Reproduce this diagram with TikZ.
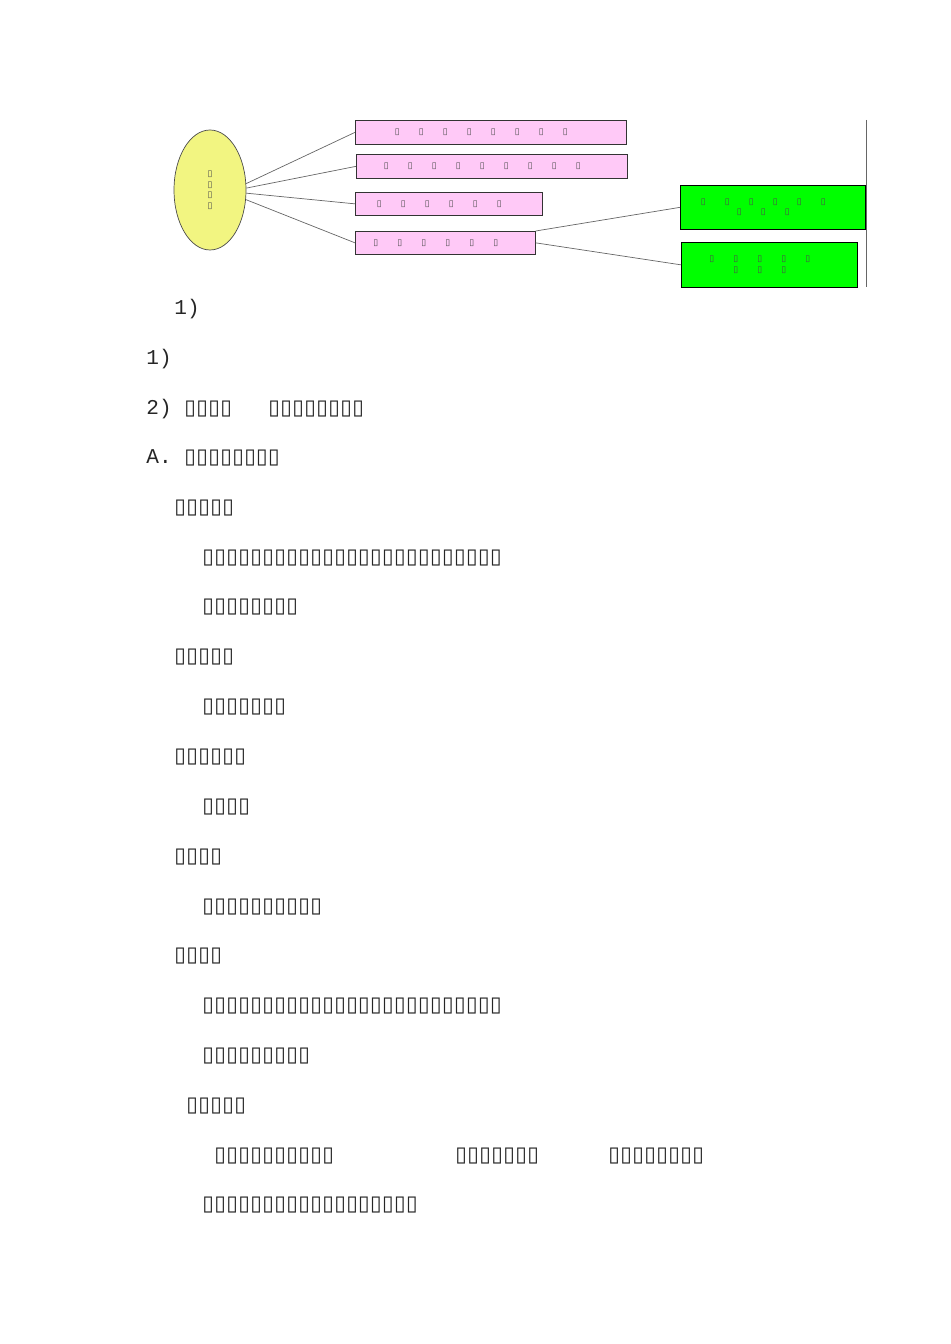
\documentclass[tikz,border=0pt]{standalone}
\usepackage{fontspec}
\setmainfont{Liberation Mono}
\newfontfamily\tofu{DejaVu Sans}
\usetikzlibrary{shapes.geometric}
\newcommand{\tf}[2]{{\tofu\foreach \i in {1,...,#1}{\makebox[#2][l]{▯}}}}
\tikzset{
	pinkbox/.style={draw=black!80, fill=pink!40!magenta!30, inner sep=0pt, anchor=north west, font=\tiny, text=black!70},
	greenbox/.style={draw=black, fill=green, inner sep=0pt, anchor=north west, font=\tiny, align=center, text=black!70},
	line/.style={draw=black!60},
	txt/.style={anchor=west, inner sep=0pt, font=\fontsize{12}{14}\selectfont, text=black!85}
}
\begin{document}
\begin{tikzpicture}[x=0.02cm,y=-0.02cm]
	\useasboundingbox (0,0) rectangle (950,1344);
	\node [ellipse, draw=black!70, fill=yellow!60!lime!50, minimum width=72*0.02cm, minimum height=120*0.02cm, inner sep=0pt, font=\tiny, align=center, text=black!70] (root) at (210,190) {{\tofu ▯}\\{\tofu ▯}\\{\tofu ▯}\\{\tofu ▯}};
	\node [pinkbox, minimum width=271*0.02cm, minimum height=24*0.02cm] (p1) at (355,120) {\tf{8}{0.48cm}};
	\node [pinkbox, minimum width=271*0.02cm, minimum height=24*0.02cm] (p2) at (356,154) {\tf{9}{0.48cm}};
	\node [pinkbox, minimum width=187*0.02cm, minimum height=23*0.02cm] (p3) at (355,192) {\tf{6}{0.48cm}\hspace{1cm}};
	\node [pinkbox, minimum width=180*0.02cm, minimum height=23*0.02cm] (p4) at (355,231) {\tf{6}{0.48cm}\hspace{1cm}};
	\node [greenbox, minimum width=185*0.02cm, minimum height=44*0.02cm] (g1) at (680,185) {\tf{6}{0.48cm}\\\tf{3}{0.48cm}};
	\node [greenbox, minimum width=176*0.02cm, minimum height=45*0.02cm] (g2) at (681,242) {\tf{5}{0.48cm}\\\tf{3}{0.48cm}};
	\coordinate (v1) at (866,120);
	\coordinate (v2) at (866,287);
	\path [line] (v1) edge (v2);

	\path [line] (root.10) edge (p1.west);
	\path [line] (root.3) edge (p2.west);
	\path [line] (root.-5) edge (p3.west);
	\path [line] (root.-15) edge (p4.west);

	\path [line] (p4.north east) edge (g1.west);
	\path [line] (p4.east) edge (g2.west);

	\node [txt] (t1) at (174,309) {1)};
	\node [txt] (t2) at (146,359) {1)};
	\node [txt] (t3) at (146,409) {2) \tf{4}{0.24cm}};
	\node [txt] (t3b) at (268,409) {\tf{8}{0.24cm}};
	\node [txt] (t4) at (146,458) {A. \tf{8}{0.24cm}};
	\node [txt] (t5) at (174,508) {\tf{5}{0.24cm}};
	\node [txt] (t6) at (202,558) {\tf{25}{0.24cm}};
	\node [txt] (t7) at (202,607) {\tf{8}{0.24cm}};
	\node [txt] (t8) at (174,657) {\tf{5}{0.24cm}};
	\node [txt] (t9) at (202,707) {\tf{7}{0.24cm}};
	\node [txt] (t10) at (174,757) {\tf{6}{0.24cm}};
	\node [txt] (t11) at (202,807) {\tf{4}{0.24cm}};
	\node [txt] (t12) at (174,857) {\tf{4}{0.24cm}};
	\node [txt] (t13) at (202,907) {\tf{10}{0.24cm}};
	\node [txt] (t14) at (174,956) {\tf{4}{0.24cm}};
	\node [txt] (t15) at (202,1006) {\tf{25}{0.24cm}};
	\node [txt] (t16) at (202,1056) {\tf{9}{0.24cm}};
	\node [txt] (t17) at (186,1106) {\tf{5}{0.24cm}};
	\node [txt] (t18) at (214,1156) {\tf{10}{0.24cm}};
	\node [txt] (t18b) at (455,1156) {\tf{7}{0.24cm}};
	\node [txt] (t18c) at (608,1156) {\tf{8}{0.24cm}};
	\node [txt] (t19) at (202,1205) {\tf{18}{0.24cm}};
\end{tikzpicture}
\end{document}
